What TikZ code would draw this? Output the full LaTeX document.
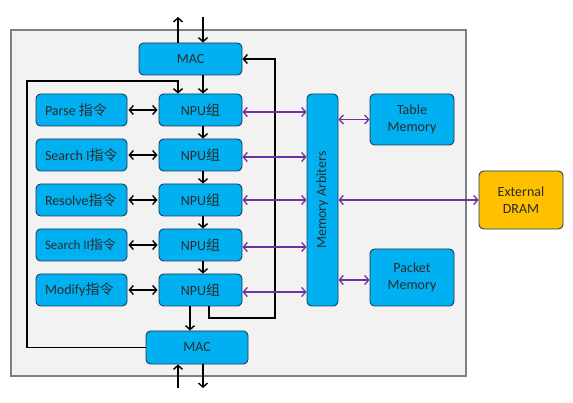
\documentclass[tikz,border=0pt]{standalone}
\usepackage{fontspec}
\setmainfont{Carlito}
\newfontfamily\cjk{Noto Sans CJK SC}
\usetikzlibrary{arrows.meta}
\definecolor{boxblue}{HTML}{00B0F0}
\definecolor{boxline}{HTML}{1F3B5A}
\definecolor{dramfill}{HTML}{FFC000}
\definecolor{purp}{HTML}{7030A0}
\definecolor{txt}{HTML}{2B2B2B}
\definecolor{outerfill}{HTML}{F2F2F2}
\definecolor{outerline}{HTML}{7F7F7F}
\newcommand{\lbox}[1]{\makebox[73pt][l]{#1}}
\tikzset{
  blk/.style={draw=boxline, line width=0.9pt, fill=boxblue, rounded corners=4.5pt,
    text=txt, font=\fontsize{14}{16.5}\selectfont, inner sep=0pt, align=center},
  instr/.style={blk, minimum height=32pt, minimum width=91pt, inner xsep=9pt},
  npu/.style={blk, minimum width=83pt, minimum height=32pt},
  bl/.style={line width=1.6pt, black, -{Straight Barb[length=4pt,width=9pt,line width=1.4pt]}},
  dbl/.style={line width=1.6pt, black, {Straight Barb[length=4pt,width=9pt,line width=1.4pt]}-{Straight Barb[length=4pt,width=9pt,line width=1.4pt]}},
  pl/.style={line width=1.4pt, purp, {Straight Barb[length=4pt,width=9pt,line width=1.3pt]}-{Straight Barb[length=4pt,width=9pt,line width=1.3pt]}},
}
\begin{document}
\begin{tikzpicture}[x=1pt,y=-1pt]
\useasboundingbox (0,0) rectangle (573,403);
\fill[white] (0,0) rectangle (573,403);
\draw[outerline, line width=1.3pt, fill=outerfill] (11,30) rectangle (466,376);

% MAC blocks
\node[blk, minimum width=103pt, minimum height=32pt] (MACt) at (190.5,59) {MAC};
\node[blk, minimum width=102pt, minimum height=33pt] (MACb) at (197,347.5) {MAC};

% NPU groups
\node[npu] (N1) at (200.5,110) {NPU{\cjk 组}};
\node[npu] (N2) at (200.5,155) {NPU{\cjk 组}};
\node[npu] (N3) at (200.5,200) {NPU{\cjk 组}};
\node[npu] (N4) at (200.5,245) {NPU{\cjk 组}};
\node[npu] (N5) at (200.5,290) {NPU{\cjk 组}};

% instruction boxes
\node[instr] (I1) at (81.5,110) {\lbox{Parse {\cjk 指令}}};
\node[instr] (I2) at (81.5,155) {\lbox{Search I{\cjk 指令}}};
\node[instr] (I3) at (81.5,200) {\lbox{Resolve{\cjk 指令}}};
\node[instr, font=\fontsize{13}{15}\selectfont] (I4) at (81.5,245) {\lbox{Search II{\cjk 指令}}};
\node[instr] (I5) at (81.5,290) {\lbox{Modify{\cjk 指令}}};

% memory side
\node[blk, minimum width=31pt, minimum height=212pt] (Arb) at (322.5,200) {};
\node[text=txt, font=\fontsize{14}{16.5}\selectfont, rotate=90] (ArbT) at (Arb.center) {Memory Arbiters};
\node[blk, minimum width=84pt, minimum height=51pt] (Tab) at (412,119.5) {Table\\Memory};
\node[blk, minimum width=84pt, minimum height=57pt] (Pkt) at (412,277.5) {Packet\\Memory};
\node[blk, fill=dramfill, minimum width=84pt, minimum height=58pt] (DRAM) at (521,200) {External\\DRAM};

% helper coordinates
\coordinate (ti) at (178,17);
\coordinate (to) at (203,17);
\coordinate (bi) at (178,388);
\coordinate (bo) at (203,388);
\coordinate (x190) at (190,0);
\coordinate (x209) at (209,0);
\coordinate (rl) at (275,318);
\coordinate (ll) at (27,81);

% top MAC I/O
\draw[bl] (MACt.north -| ti) -- (ti);
\draw[bl] (to) -- (MACt.north -| to);
% bottom MAC I/O
\draw[bl] (bi) -- (MACb.south -| bi);
\draw[bl] (MACb.south -| bo) -- (bo);

% vertical chain
\draw[bl] (MACt.south -| to) -- (N1.north -| to);
\draw[bl] (N1.south -| to) -- (N2.north -| to);
\draw[bl] (N2.south -| to) -- (N3.north -| to);
\draw[bl] (N3.south -| to) -- (N4.north -| to);
\draw[bl] (N4.south -| to) -- (N5.north -| to);
\draw[bl] (N5.south -| x190) -- (MACb.north -| x190);

% loops
\draw[bl] (N5.south -| x209) |- (rl) |- (MACt.east);
\draw[bl] (MACb.west) -| (ll) -| (N1.north -| ti);

% instruction <-> NPU
\draw[dbl, shorten <=1pt, shorten >=1pt] (I1.east) -- (N1.west);
\draw[dbl, shorten <=1pt, shorten >=1pt] (I2.east) -- (N2.west);
\draw[dbl, shorten <=1pt, shorten >=1pt] (I3.east) -- (N3.west);
\draw[dbl, shorten <=1pt, shorten >=1pt] (I4.east) -- (N4.west);
\draw[dbl, shorten <=1pt, shorten >=1pt] (I5.east) -- (N5.west);

% NPU <-> arbiter
\draw[pl] ([yshift=-2pt]N1.east) -- ([yshift=-2pt]N1.east -| Arb.west);
\draw[pl] ([yshift=-2pt]N2.east) -- ([yshift=-2pt]N2.east -| Arb.west);
\draw[pl] (N3.east) -- (N3.east -| Arb.west);
\draw[pl] ([yshift=-2pt]N4.east) -- ([yshift=-2pt]N4.east -| Arb.west);
\draw[pl] ([yshift=-2pt]N5.east) -- ([yshift=-2pt]N5.east -| Arb.west);

% arbiter <-> memories
\draw[pl] (Tab.west -| Arb.east) -- (Tab.west);
\draw[pl] ([yshift=-2.5pt]Pkt.west -| Arb.east) -- ([yshift=-2.5pt]Pkt.west);
\draw[pl] (DRAM.west -| Arb.east) -- (DRAM.west);
\end{tikzpicture}
\end{document}
